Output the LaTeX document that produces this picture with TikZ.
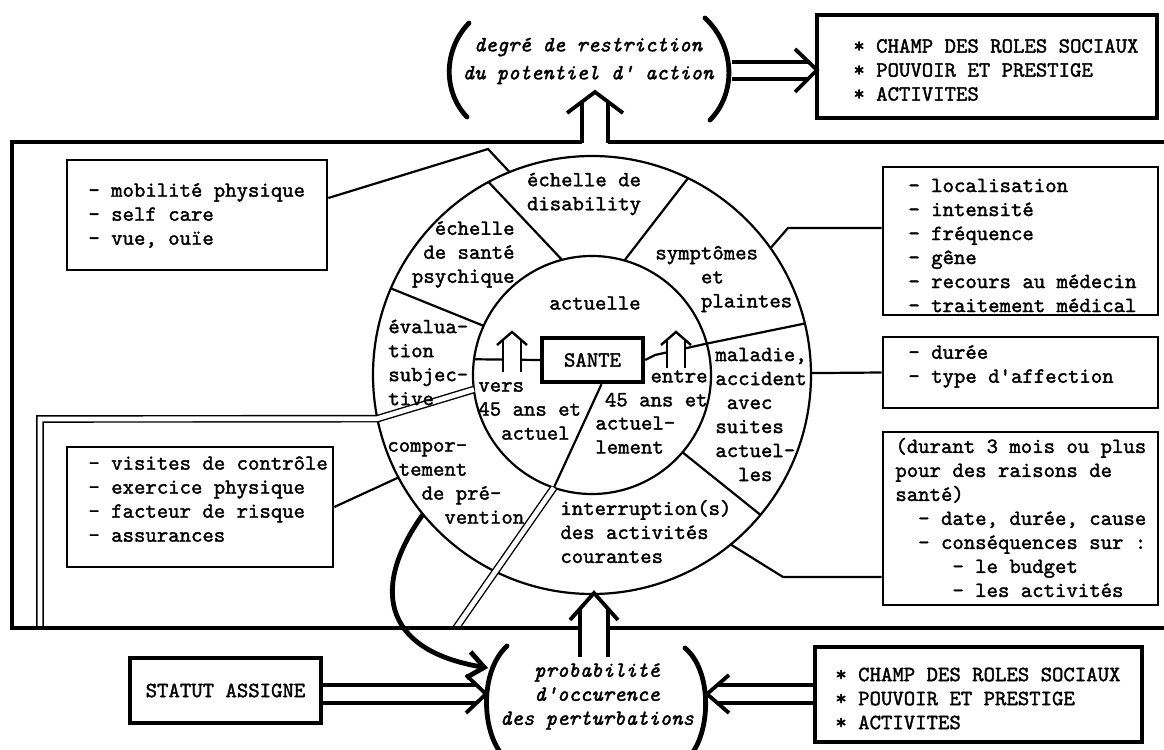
\documentclass[tikz,border=0pt]{standalone}
\usepackage{fontspec}
\setmonofont{Latin Modern Mono}[FakeBold=1.6]
\usetikzlibrary{positioning,calc,fit,arrows.meta}

\tikzset{
  box/.style={draw, line width=1.3pt, inner sep=0pt},
  heavybox/.style={draw, line width=1.9pt, inner sep=0pt},
  lst/.style={align=left, anchor=west, inner sep=0pt},
  outline/.style={line width=2.3pt},
  ring/.style={line width=1.1pt},
  conn/.style={line width=1.1pt},
  paren/.style={line width=2.4pt, line cap=round},
  dbl/.style={double, line width=1.9pt, double distance=#1},
  smalldbl/.style={double, line width=1.2pt, double distance=#1},
  dblthin/.style={double, line width=0.7pt, double distance=2.4pt},
  chev/.style={line width=1.9pt},
  smallchev/.style={line width=1.2pt},
  slant/.style={align=center, inner sep=0pt, font=\ttfamily\itshape\fontsize{10.86}{14}\selectfont}
}

\begin{document}
\begin{tikzpicture}[x=0.5pt, y=0.5pt, font=\ttfamily\fontsize{10.86}{12}\selectfont]
  \useasboundingbox (0,0) rectangle (1164,-750);

  % wheel
  \coordinate (O) at (592,-375);
  \draw[ring] (O) circle (219);
  \draw[ring] (O) circle (119);
  \foreach \a/\b in {104.6/118.2, 74.2/64, 155.6/156.7, -40.5/-39.7}
    \draw[ring] ($(O)+(\a:119)$) -- ($(O)+(\b:219)$);

  \node[draw, line width=2.2pt, minimum width=50.5pt, minimum height=22pt, inner sep=0pt] (sante) at (592.5,-360) {SANTE};

  \draw[ring] ($(O)+(172.4:119)$) -- (sante.west);
  \draw[ring] (sante.east) -- (655,-355) -- ($(O)+(15.3:119)$) -- ($(O)+(13.6:219)$);
  \draw[ring] ($(sante.south)+(9,0)$) -- ($(O)+(251.3:119)$);
  \draw[dblthin] ($(O)+(251.3:119)$) -- (456,-628);
  \draw[dblthin] ($(O)+(187:119)$) -- ($(O)+(191.5:219)$) -- (40,-419) -- (40,-628);

  % big frame
  \draw[outline] (582,-142) -- (12,-142) -- (12,-628) -- (580,-628);
  \draw[outline] (608,-142) -- (1170,-142);
  \draw[outline] (608,-628) -- (1170,-628);

  % labels in the wheel
  \node[align=center, inner sep=0pt] (disab) at (584,-194) {échelle de\\disability};
  \node[align=right, anchor=east, inner sep=0pt] (psych) at (515,-254.5) {échelle\\de santé\\psychique};
  \node[lst] (sympt) at (655,-279) {symptômes\\\hphantom{xxxx}et\\\hphantom{xxxx}plaintes};
  \node[inner sep=0pt] (actu) at (595,-303) {actuelle};
  \node[lst] (evalu) at (388,-362.5) {évalua-\\tion\\subjec-\\tive};
  \node[lst] (vers) at (478,-411) {vers\\45 ans et\\\hphantom{xx}actuel};
  \node[align=right, anchor=east, inner sep=0pt] (entre) at (708,-388.5) {entre\\45 ans et};
  \node[lst] (actlem) at (595,-435) {actuel-\\lement};
  \node[lst] (malad) at (715,-414.5) {maladie,\\accident\\\hphantom{x}avec\\suites\\actuel-\\\hphantom{xx}les};
  \node[lst] (compor) at (387,-483) {compor-\\\hphantom{x}tement\\\hphantom{xxx}de pré-\\\hphantom{xxxxx}vention};
  \node[lst] (interr) at (560,-531.5) {interruption(s)\\des activités\\courantes};

  % small arrows next to SANTE
  \draw[smalldbl=7.8pt] (512,-372) -- (512,-340);
  \draw[smallchev] (497,-345) -- (512,-332) -- (527,-345);
  \draw[smalldbl=7.8pt] (676,-368) -- (676,-340);
  \draw[smallchev] (661,-345) -- (676,-332) -- (691,-345);

  % boxes round the wheel
  \node[box, fit={(67,-160) (327,-270)}] (mobil) {};
  \node[lst] (mobtxt) at (88,-215.5) {- mobilité physique\\- self care\\- vue, ouïe};
  \node[box, fit={(67,-447) (333,-567)}] (prevbox) {};
  \node[lst] (prevtxt) at (88,-499) {- visites de contrôle\\- exercice physique\\- facteur de risque\\- assurances};
  \node[box, fit={(883,-167) (1158,-315)}] (symbox) {};
  \node[lst] (symtxt) at (908,-245.5) {- localisation\\- intensité\\- fréquence\\- gêne\\- recours au médecin\\- traitement médical};
  \node[box, fit={(883,-337) (1158,-408)}] (durbox) {};
  \node[lst] (durtxt) at (908,-366.5) {- durée\\- type d'affection};
  \node[box, fit={(883,-432) (1158,-605)}] (durantbox) {};
  \node[lst] (duranttxt) at (895,-517.5) {(durant 3 mois ou plus\\pour des raisons de\\santé)\\\hphantom{xx}- date, durée, cause\\\hphantom{xx}- conséquences sur :\\\hphantom{xxxxx}- le budget\\\hphantom{xxxxx}- les activités};

  \draw[conn] (mobil.east) ++(0,17) -- (488,-149) -- ($(O)+(112.1:219)$);
  \draw[conn] (prevbox.east) -- ($(O)+(207.9:219)$);
  \draw[conn] ($(O)+(35.4:219)$) -- (788,-228) -- (symbox.west |- 0,-228);
  \draw[conn] ($(O)+(0.5:219)$) -- (durbox.west);
  \draw[conn] ($(O)+(-50.7:219)$) -- (783,-577) -- (durantbox.west |- 0,-577);

  % top: degre de restriction
  \node[slant] (degre) at (588,-61) {degré de restriction\\du potentiel d' action};
  \draw[paren] (469,-23) .. controls (443,-50) and (443,-92) .. (467,-117);
  \draw[paren] (705,-18) .. controls (736,-47) and (736,-94) .. (710,-120);
  \draw[dbl=11.1pt] (595,-143) -- (595,-102);
  \draw[chev] (567,-113) -- (595,-92) -- (623,-113);

  \node[heavybox, fit={(817,-15) (1157,-118)}] (rolesup) {};
  \node[lst] (rolesuptxt) at (853,-70) {* CHAMP DES ROLES SOCIAUX\\* POUVOIR ET PRESTIGE\\* ACTIVITES};
  \draw[dbl=6.6pt] (732,-70.5) -- (808,-70.5);
  \draw[chev] (795,-49) -- (817,-70) -- (795,-92);

  % bottom: probabilite
  \node[slant, font=\ttfamily\itshape\fontsize{10.86}{12}\selectfont] (prob) at (597,-696.5) {probabilité\\d'occurence\\des perturbations};
  \draw[paren] (507,-646) .. controls (481,-670) and (481,-725) .. (500,-752);
  \draw[paren] (685,-648) .. controls (711,-670) and (711,-725) .. (693,-752);
  \draw[dbl=12.1pt] (594,-657) -- (594,-609);
  \draw[chev] (570,-620) -- (594,-593) -- (618,-620);

  \node[heavybox, minimum width=95.5pt, minimum height=32.5pt] (statut) at (225.5,-690.5) {STATUT ASSIGNE};
  \draw[dbl=7.1pt] (statut.east |- 0,-694) -- (476,-694);
  \draw[chev] (466,-675) -- (486,-694) -- (466,-713);

  \node[heavybox, fit={(815,-647) (1142,-742)}] (rolesdown) {};
  \node[lst] (rolesdowntxt) at (835,-698.5) {* CHAMP DES ROLES SOCIAUX\\* POUVOIR ET PRESTIGE\\* ACTIVITES};
  \draw[dbl=7.1pt] (rolesdown.west |- 0,-694) -- (718,-694);
  \draw[chev] (729,-675) -- (707,-694) -- (729,-713);

  \draw[line width=2.4pt, -{Straight Barb[length=8pt,width=13pt]}] ($(O)+(219.5:219)$) .. controls (372,-585) and (380,-650) .. (488,-668);
\end{tikzpicture}
\end{document}
